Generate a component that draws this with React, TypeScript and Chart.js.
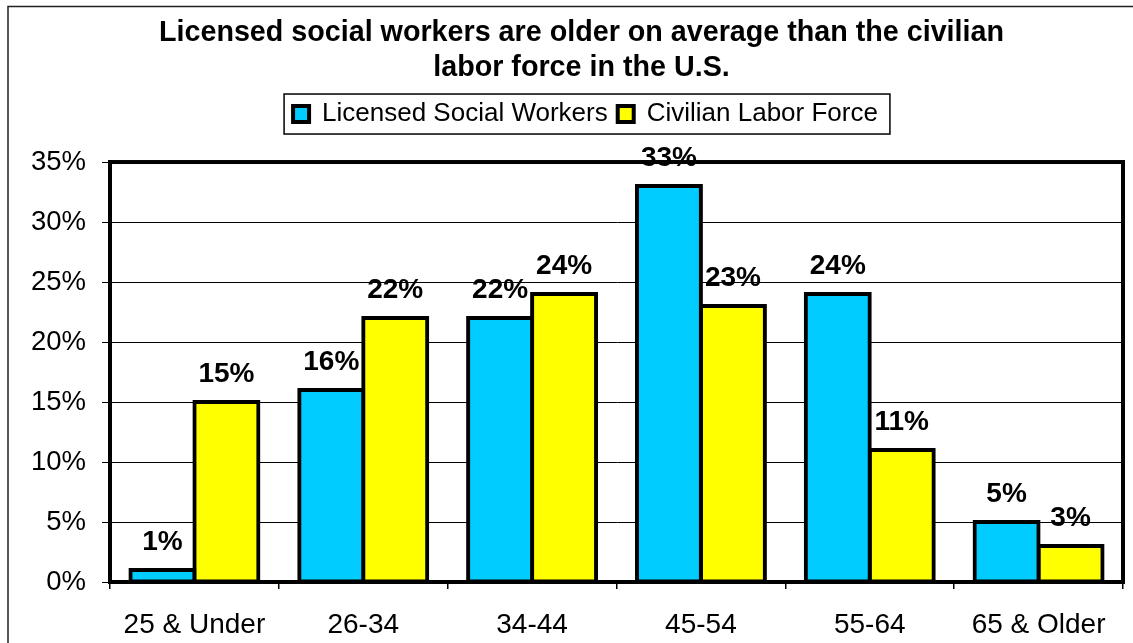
import React, { useEffect, useRef } from "react";
import { Chart, registerables } from "chart.js";

Chart.register(...registerables);

const categories = ["25 & Under", "26-34", "34-44", "45-54", "55-64", "65 & Older"];
const socialWorkers = [1, 16, 22, 33, 24, 5];
const laborForce = [15, 22, 24, 23, 11, 3];
const seriesNames = ["Licensed Social Workers", "Civilian Labor Force"];
const titleLines = ["Licensed social workers are older on average than the civilian", "labor force in the U.S."];

const FONT = '"Liberation Sans", Arial, sans-serif';

const outerFrame = {
  id: "outerFrame",
  beforeDraw(chart: any) {
    const ctx = chart.ctx;
    ctx.save();
    ctx.fillStyle = "#ffffff";
    ctx.fillRect(0, 0, chart.width, chart.height);
    ctx.strokeStyle = "#222222";
    ctx.lineWidth = 1.5;
    ctx.strokeRect(8, 6.5, chart.width + 20, chart.height + 20);
    ctx.restore();
  },
};

// shift the title and legend boxes horizontally so they are centred like the original
const headerPlacement = {
  id: "headerPlacement",
  afterLayout(chart: any) {
    const t = chart.titleBlock;
    if (t) {
      t.left = 40;
      t.right = 1123;
      t.width = t.right - t.left;
    }
    const l = chart.legend;
    if (l) {
      l.left = 48;
      l.right = 1123;
      l.width = l.right - l.left;
    }
  },
};

const plotFrame = {
  id: "plotFrame",
  afterDatasetsDraw(chart: any) {
    const { left, top, right, bottom } = chart.chartArea;
    const ctx = chart.ctx;
    ctx.save();
    ctx.strokeStyle = "#000000";
    ctx.lineWidth = 4;
    ctx.strokeRect(left, top, right - left, bottom - top);
    ctx.restore();
  },
};

const valueLabels = {
  id: "valueLabels",
  afterDatasetsDraw(chart: any) {
    const ctx = chart.ctx;
    ctx.save();
    ctx.font = `bold 28px ${FONT}`;
    ctx.fillStyle = "#000000";
    ctx.textAlign = "center";
    ctx.textBaseline = "alphabetic";
    chart.data.datasets.forEach((ds: any, i: number) => {
      const meta = chart.getDatasetMeta(i);
      meta.data.forEach((el: any, j: number) => {
        ctx.fillText(`${ds.data[j]}%`, el.x, el.y - 20);
      });
    });
    ctx.restore();
  },
};

const legendFrame = {
  id: "legendFrame",
  afterDraw(chart: any) {
    const hb = chart.legend && chart.legend.legendHitBoxes;
    if (!hb || !hb.length) return;
    const left = Math.min(...hb.map((h: any) => h.left)) - 9;
    const right = Math.max(...hb.map((h: any) => h.left + h.width)) + 12;
    const top = Math.min(...hb.map((h: any) => h.top)) - 7;
    const bottom = Math.max(...hb.map((h: any) => h.top + h.height)) + 7;
    const ctx = chart.ctx;
    ctx.save();
    ctx.strokeStyle = "#000000";
    ctx.lineWidth = 1.5;
    ctx.strokeRect(left, top, right - left, bottom - top);
    ctx.restore();
  },
};

export default function App() {
  const ref = useRef<HTMLCanvasElement | null>(null);

  useEffect(() => {
    if (!ref.current) return;
    Chart.defaults.font.family = FONT;
    Chart.defaults.color = "#000000";
    const chart = new Chart(ref.current, {
      type: "bar",
      data: {
        labels: categories,
        datasets: [
          {
            label: seriesNames[0],
            data: socialWorkers,
            backgroundColor: "#00CCFF",
            borderColor: "#000000",
            borderWidth: 4,
            borderSkipped: false,
            inflateAmount: 2,
            categoryPercentage: 0.758,
            barPercentage: 1,
          } as any,
          {
            label: seriesNames[1],
            data: laborForce,
            backgroundColor: "#FFFF00",
            borderColor: "#000000",
            borderWidth: 4,
            borderSkipped: false,
            inflateAmount: 2,
            categoryPercentage: 0.758,
            barPercentage: 1,
          } as any,
        ],
      },
      options: {
        responsive: false,
        animation: false,
        events: [],
        layout: { padding: { left: 0, right: 10, top: 0, bottom: 0 } },
        plugins: {
          title: {
            display: true,
            text: titleLines,
            color: "#000000",
            font: { family: FONT, size: 28.7, weight: "bold", lineHeight: 1.22 },
            padding: { top: 16, bottom: 5 },
          },
          legend: {
            display: true,
            position: "top",
            labels: {
              color: "#000000",
              font: { family: FONT, size: 26 },
              boxWidth: 16,
              boxHeight: 16,
              padding: 10,
            },
          },
          tooltip: { enabled: false },
        },
        scales: {
          x: {
            position: "bottom",
            offset: true,
            grid: {
              display: true,
              offset: true,
              drawOnChartArea: false,
              drawTicks: true,
              tickLength: 7,
              color: "#000000",
              lineWidth: 1.5,
            },
            border: { display: true, color: "#000000", width: 4 },
            ticks: {
              color: "#000000",
              font: { family: FONT, size: 28 },
              padding: 19,
              maxRotation: 0,
              autoSkip: false,
            },
            afterFit(scale: any) {
              scale.height = 61;
            },
          },
          xTop: {
            type: "category",
            position: "top",
            display: true,
            grid: { display: false, drawTicks: false },
            border: { display: false },
            ticks: { display: false },
            afterFit(scale: any) {
              scale.height = 25;
            },
          },
          y: {
            min: 0,
            max: 35,
            ticks: {
              stepSize: 5,
              color: "#000000",
              font: { family: FONT, size: 27.5 },
              padding: 16,
              callback: (v: any) => `${v}%`,
            },
            grid: {
              display: true,
              color: "#000000",
              lineWidth: 1,
              drawTicks: true,
              tickLength: 8,
            },
            border: { display: true, color: "#000000", width: 4 },
            afterFit(scale: any) {
              scale.width = 110;
            },
          },
        },
      } as any,
      plugins: [outerFrame, headerPlacement, plotFrame, valueLabels, legendFrame],
    });
    return () => chart.destroy();
  }, []);

  return (
    <div style={{ position: "absolute", left: 0, top: 0, width: 1133, height: 643, background: "#fff" }}>
      <canvas ref={ref} width={1133} height={643} style={{ display: "block" }} />
    </div>
  );
}
